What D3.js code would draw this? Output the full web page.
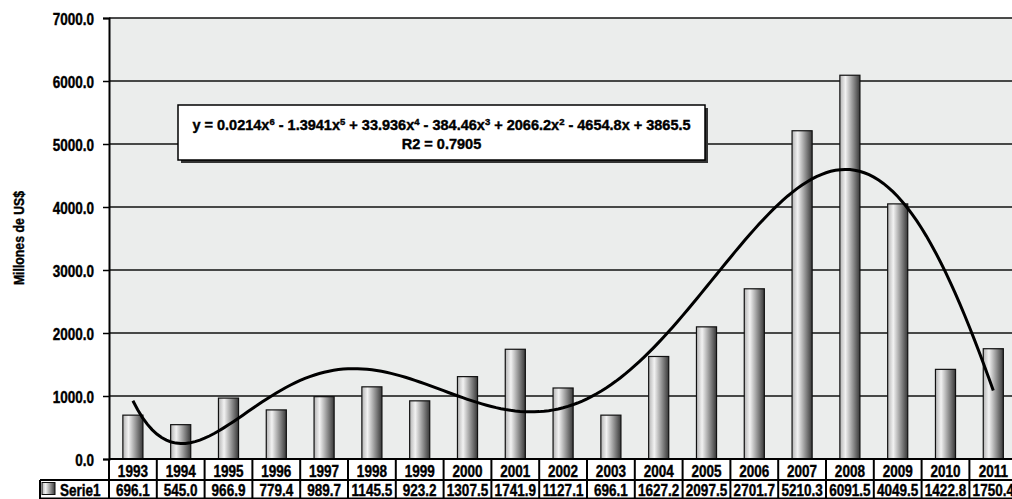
<!DOCTYPE html>
<html>
<head>
<meta charset="utf-8">
<script src="https://cdn.jsdelivr.net/npm/d3@7"></script>
<style>
  body { margin: 0; background: #fff; }
  svg text { font-family: "Liberation Sans", Arial, sans-serif; font-weight: bold; fill: #000; stroke: #000; stroke-width: 0.4px; }
</style>
</head>
<body>
<div class="canvas"></div>
<script>
// data
const years = ['1993', '1994', '1995', '1996', '1997', '1998', '1999', '2000', '2001', '2002',
  '2003', '2004', '2005', '2006', '2007', '2008', '2009', '2010', '2011']
const values = [696.1, 545.0, 966.9, 779.4, 989.7, 1145.5, 923.2, 1307.5, 1741.9, 1127.1,
  696.1, 1627.2, 2097.5, 2701.7, 5210.3, 6091.5, 4049.5, 1422.8, 1750.4]
const yTicks = [0, 1000, 2000, 3000, 4000, 5000, 6000, 7000]
const seriesName = 'Serie1'
const yTitle = 'Millones de US$'
const trendDegree = 6
const eqTerms = [
  ['y = 0.0214x', '6'], [' - 1.3941x', '5'], [' + 33.936x', '4'], [' - 384.46x', '3'],
  [' + 2066.2x', '2'], [' - 4654.8x + 3865.5', null]
]
const r2Label = 'R2 = 0.7905'

const dims = { width: 1012, height: 499 }
const plot = { left: 109, top: 18, bottom: 459, band: 47.8 }
const squeeze = 0.82 // condensed look
const fs = '16.5px'

const svg = d3.select('.canvas')
  .append('svg')
  .attr('width', dims.width)
  .attr('height', dims.height)

const at = (px, py, extra = '', sx = squeeze) => `translate(${px}, ${py}) ${extra} scale(${sx}, 1)`

const x = d3.scaleBand()
  .domain(years)
  .range([plot.left, plot.left + plot.band * years.length])

const y = d3.scaleLinear()
  .domain([0, 7000])
  .range([plot.bottom, plot.top])

// bar gradient
const defs = svg.append('defs')
const grad = defs.append('linearGradient')
  .attr('id', 'barGrad')
  .attr('x1', 0).attr('x2', 1).attr('y1', 0).attr('y2', 0)
grad.append('stop').attr('offset', '0%').attr('stop-color', '#b4b4b4')
grad.append('stop').attr('offset', '28%').attr('stop-color', '#f2f2f2')
grad.append('stop').attr('offset', '100%').attr('stop-color', '#383838')

// plot background
svg.append('rect')
  .attr('x', plot.left).attr('y', plot.top)
  .attr('width', x.range()[1] - plot.left)
  .attr('height', plot.bottom - plot.top)
  .attr('fill', '#ebedec')

// gridlines
svg.append('g')
  .selectAll('line')
  .data(yTicks.slice(1))
  .enter().append('line')
    .attr('x1', plot.left).attr('x2', x.range()[1])
    .attr('y1', d => y(d)).attr('y2', d => y(d))
    .attr('stroke', '#111').attr('stroke-width', 1.5)

// y axis
const yAxis = d3.axisLeft(y)
  .tickValues(yTicks)
  .tickSize(6)
  .tickFormat(d3.format('.1f'))

const yG = svg.append('g')
  .attr('transform', `translate(${plot.left}, 0)`)
  .call(yAxis)
yG.select('.domain').attr('stroke', '#000').attr('stroke-width', 2)
yG.selectAll('.tick line').attr('stroke', '#000').attr('stroke-width', 1.5)
yG.selectAll('.tick text')
  .attr('x', null).attr('dy', null)
  .attr('transform', at(-15, 6))
  .attr('font-family', null)
  .attr('font-size', null)
  .style('font-size', fs)

svg.append('text')
  .attr('transform', at(24, 238, 'rotate(-90)'))
  .attr('text-anchor', 'middle')
  .style('font-size', '15px')
  .text(yTitle)

// bars
const barW = plot.band * 0.42
svg.append('g')
  .selectAll('rect')
  .data(values)
  .enter().append('rect')
    .attr('x', (d, i) => x(years[i]) + (plot.band - barW) / 2)
    .attr('y', d => y(d))
    .attr('width', barW)
    .attr('height', d => y(0) - y(d))
    .attr('fill', 'url(#barGrad)')
    .attr('stroke', '#111')
    .attr('stroke-width', 1.2)

// polynomial trendline (least squares fit, x = 1..n)
const n = values.length
const tOf = k => (k - (n + 1) / 2) / ((n - 1) / 2)
const m = trendDegree + 1
const A = d3.range(m).map(() => new Array(m + 1).fill(0))
values.forEach((v, i) => {
  const t = tOf(i + 1)
  for (let r = 0; r < m; r++) {
    for (let c = 0; c < m; c++) A[r][c] += Math.pow(t, r + c)
    A[r][m] += v * Math.pow(t, r)
  }
})
for (let c = 0; c < m; c++) {
  let p = c
  for (let r = c + 1; r < m; r++) if (Math.abs(A[r][c]) > Math.abs(A[p][c])) p = r
  ;[A[c], A[p]] = [A[p], A[c]]
  for (let r = 0; r < m; r++) {
    if (r === c) continue
    const f = A[r][c] / A[c][c]
    for (let k = c; k <= m; k++) A[r][k] -= f * A[c][k]
  }
}
const coef = A.map((row, i) => row[m] / row[i])
const trend = k => coef.reduce((s, a, j) => s + a * Math.pow(tOf(k), j), 0)

const xPos = k => x(years[0]) + plot.band / 2 + (k - 1) * plot.band
const trendPts = d3.range(1, n + 0.001, 0.1)

svg.append('path')
  .datum(trendPts)
  .attr('fill', 'none')
  .attr('stroke', '#000')
  .attr('stroke-width', 3)
  .attr('d', d3.line().x(k => xPos(k)).y(k => y(trend(k))))

// equation box
const box = { x: 178, y: 105, w: 527, h: 55 }
svg.append('rect')
  .attr('x', box.x + 3).attr('y', box.y + 3)
  .attr('width', box.w).attr('height', box.h)
  .attr('fill', '#333')
svg.append('rect')
  .attr('x', box.x).attr('y', box.y)
  .attr('width', box.w).attr('height', box.h)
  .attr('fill', '#fff')
  .attr('stroke', '#000').attr('stroke-width', 1.5)

const eq = svg.append('text')
  .attr('transform', at(box.x + box.w / 2, box.y + 25, '', 1.0))
  .attr('text-anchor', 'middle')
  .style('font-size', '14.5px')
let lift = 0
eqTerms.forEach(([base, sup]) => {
  eq.append('tspan').attr('dy', -lift).text(base)
  lift = 0
  if (sup) {
    eq.append('tspan').attr('dy', -5).style('font-size', '9.5px').text(sup)
    lift = -5
  }
})
svg.append('text')
  .attr('transform', at(box.x + box.w / 2, box.y + 44, '', 1.0))
  .attr('text-anchor', 'middle')
  .style('font-size', '14.5px')
  .text(r2Label)

// x axis line
svg.append('line')
  .attr('x1', plot.left).attr('x2', dims.width)
  .attr('y1', plot.bottom).attr('y2', plot.bottom)
  .attr('stroke', '#000').attr('stroke-width', 2)

// data table
const row1 = plot.bottom, row2 = 480, rowEnd = 499
const tbl = svg.append('g')
tbl.append('line')
  .attr('x1', 40).attr('x2', dims.width)
  .attr('y1', row2).attr('y2', row2)
  .attr('stroke', '#000').attr('stroke-width', 2)
tbl.append('line')
  .attr('x1', 40).attr('x2', dims.width)
  .attr('y1', rowEnd - 0.5).attr('y2', rowEnd - 0.5)
  .attr('stroke', '#000').attr('stroke-width', 2)
tbl.append('line')
  .attr('x1', 40).attr('x2', 40)
  .attr('y1', row2).attr('y2', rowEnd)
  .attr('stroke', '#000').attr('stroke-width', 2)
tbl.selectAll('.sep')
  .data(years)
  .enter().append('line')
    .attr('class', 'sep')
    .attr('x1', d => x(d)).attr('x2', d => x(d))
    .attr('y1', row1).attr('y2', rowEnd)
    .attr('stroke', '#000').attr('stroke-width', 2)

tbl.selectAll('.yr')
  .data(years)
  .enter().append('text')
    .attr('class', 'yr')
    .attr('transform', d => at(x(d) + plot.band / 2, row1 + 17.5))
    .attr('text-anchor', 'middle')
    .style('font-size', fs)
    .text(d => d)

tbl.selectAll('.val')
  .data(values)
  .enter().append('text')
    .attr('class', 'val')
    .attr('transform', (d, i) => at(x(years[i]) + plot.band / 2, row2 + 16))
    .attr('text-anchor', 'middle')
    .style('font-size', fs)
    .text(d => d3.format('.1f')(d))

// legend key
tbl.append('rect')
  .attr('x', 42).attr('y', 482.5)
  .attr('width', 13).attr('height', 12)
  .attr('fill', 'url(#barGrad)')
  .attr('stroke', '#111').attr('stroke-width', 1)
tbl.append('text')
  .attr('transform', at(60, row2 + 16))
  .style('font-size', fs)
  .text(seriesName)
</script>
</body>
</html>
